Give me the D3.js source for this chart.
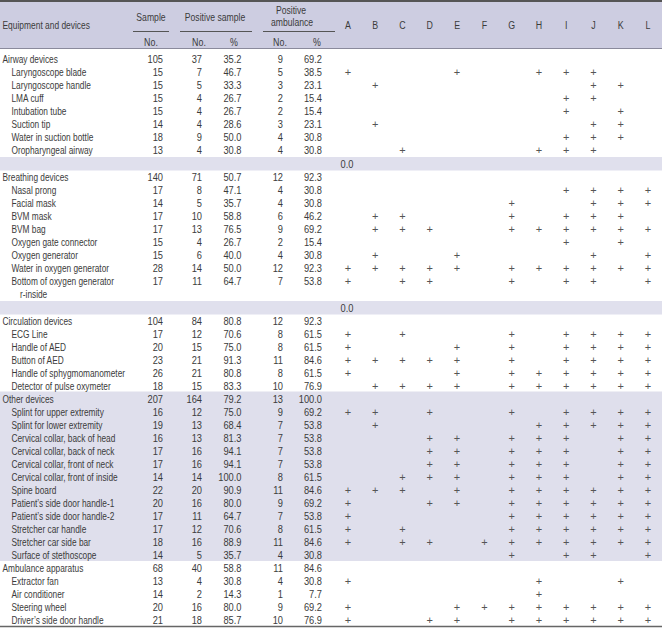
<!DOCTYPE html>
<html><head><meta charset="utf-8">
<script src="https://cdn.jsdelivr.net/npm/d3@7"></script>
<style>
html,body{margin:0;padding:0;background:#fff;}
svg text{font-family:"Liberation Sans",Arial,sans-serif;}
</style></head>
<body><svg id="chart" width="662" height="629"></svg>
<script>
const columns = ["A","B","C","D","E","F","G","H","I","J","K","L"];
const labels = ["Airway devices","Laryngoscope blade","Laryngoscope handle","LMA cuff","Intubation tube","Suction tip","Water in suction bottle","Oropharyngeal airway","",
"Breathing devices","Nasal prong","Facial mask","BVM mask","BVM bag","Oxygen gate connector","Oxygen generator","Water in oxygen generator","Bottom of oxygen generator","r-inside","",
"Circulation devices","ECG Line","Handle of AED","Button of AED","Handle of sphygmomanometer","Detector of pulse oxymeter",
"Other devices","Splint for upper extremity","Splint for lower extremity","Cervical collar, back of head","Cervical collar, back of neck","Cervical collar, front of neck","Cervical collar, front of inside","Spine board","Patient\u2019s side door handle-1","Patient\u2019s side door handle-2","Stretcher car handle","Stretcher car side bar","Surface of stethoscope",
"Ambulance apparatus","Extractor fan","Air conditioner","Steering wheel","Driver\u2019s side door handle"];
const kinds = ["g","i","i","i","i","i","i","i","b",
"g","i","i","i","i","i","i","i","i","c","b",
"g","i","i","i","i","i",
"g","i","i","i","i","i","i","i","i","i","i","i","i",
"g","i","i","i","i"];
const sampleNo = [105,15,15,15,15,14,18,13,null,
140,17,14,17,17,15,15,28,17,null,null,
104,17,20,23,26,18,
207,16,19,16,17,17,14,22,20,17,17,18,14,
68,13,14,20,21];
const posNo = [37,7,5,4,4,4,9,4,null,
71,8,5,10,13,4,6,14,11,null,null,
84,12,15,21,21,15,
164,12,13,13,16,16,14,20,16,11,12,16,5,
40,4,2,16,18];
const posPct = [35.2,46.7,33.3,26.7,26.7,28.6,50.0,30.8,null,
50.7,47.1,35.7,58.8,76.5,26.7,40.0,50.0,64.7,null,null,
80.8,70.6,75.0,91.3,80.8,83.3,
79.2,75.0,68.4,81.3,94.1,94.1,100.0,90.9,80.0,64.7,70.6,88.9,35.7,
58.8,30.8,14.3,80.0,85.7];
const ambNo = [9,5,3,2,2,3,4,4,null,
12,4,4,6,9,2,4,12,7,null,null,
12,8,8,11,8,10,
13,9,7,7,7,7,8,11,9,7,8,11,4,
11,4,1,9,10];
const ambPct = [69.2,38.5,23.1,15.4,15.4,23.1,30.8,30.8,null,
92.3,30.8,30.8,46.2,69.2,15.4,30.8,92.3,53.8,null,null,
92.3,61.5,61.5,84.6,61.5,76.9,
100.0,69.2,53.8,53.8,53.8,53.8,61.5,84.6,69.2,53.8,61.5,84.6,30.8,
84.6,30.8,7.7,69.2,76.9];
const marks = ["","AEHIJ","BJK","IJ","IK","BJK","IJK","CHIJ","",
"","IJKL","GJKL","BCGIJK","BCDGHIJKL","IK","BEJL","ABCDEGHIJKL","ACDGIJL","","",
"","ACGIJKL","AEGIJKL","ABCDEGIJKL","AEGHIJKL","BCDEGHIJKL",
"","ABDGIJKL","BHIJKL","DEGHIKL","DEGHIKL","DEGHIKL","CDEGHIKL","ABCEGHIJKL","ADEGHIJKL","AGHIJKL","ACGHIJKL","ACDFGHIJKL","GIJL",
"","AHK","H","AEFGHIJKL","ADEGHIJKL"];
const bandValue = 0.0;
const shadedGroups = ["Other devices"];
const headerGroups = [["Sample"],["Positive sample"],["Positive","ambulance"]];
const subHeaders = ["No.","No.","%","No.","%"];
const firstHeader = "Equipment and devices";

const svg = d3.select("#chart");
const W = 662;
const textCol = "#3b3b3b";
const fmt1 = d3.format(".1f");
const FS = 10.8;

function txt(g, xPos, yPos, s, anchor, sx, extra){
  const t = g.append("text")
    .attr("transform", `translate(${xPos},${yPos}) scale(${sx},1)`)
    .attr("text-anchor", anchor || "start")
    .text(s);
  if (extra) extra(t);
  return t;
}

const x = d3.scalePoint().domain(columns).range([348, 648]);

// row layout
const rowTop = [];
let yy = 52;
kinds.forEach((k)=>{ rowTop.push(yy); yy += (k==="b") ? 14 : 13; });
const rowH = i => kinds[i]==="b" ? 14 : 13;

// header background
svg.append("rect").attr("x",0).attr("y",0).attr("width",W).attr("height",48.5).attr("fill","#cdcde1");
// shaded group blocks
let curGroup = null;
const groupOf = kinds.map((k,i)=>{ if(k==="g") curGroup = labels[i]; return curGroup; });
shadedGroups.forEach(g=>{
  const idx = groupOf.map((v,i)=>v===g?i:-1).filter(i=>i>=0);
  const y0 = rowTop[idx[0]] - 0.5, y1 = rowTop[idx[idx.length-1]] + rowH(idx[idx.length-1]);
  svg.append("rect").attr("x",0).attr("y",y0).attr("width",W).attr("height",y1-y0).attr("fill","#dfdfec");
});
// band rows
const bandG = svg.append("g").attr("fill",textCol).attr("font-size",FS);
kinds.forEach((k,i)=>{
  if(k==="b"){
    svg.insert("rect","g").attr("x",0).attr("y",rowTop[i]+1).attr("width",W).attr("height",13.5).attr("fill","#e0e0ed");
    txt(bandG, x("A")-1, rowTop[i]+11.5, fmt1(bandValue), "middle", 0.86);
  }
});

// header lines
svg.append("line").attr("x1",0).attr("x2",W).attr("y1",1).attr("y2",1).attr("stroke","#555").attr("stroke-width",2);
svg.append("line").attr("x1",0).attr("x2",W).attr("y1",48.5).attr("y2",48.5).attr("stroke","#8a8a9c").attr("stroke-width",1);
svg.append("line").attr("x1",0).attr("x2",W).attr("y1",626.5).attr("y2",626.5).attr("stroke","#666").attr("stroke-width",1.6);

const hdr = svg.append("g").attr("fill","#3b3b3b").attr("font-size",FS);
txt(hdr, 2.5, 28.5, firstHeader, "start", 0.78);
const groupCenters = [151, 215, 291];
const underl = [[133,169],[180,252],[263,335]];
headerGroups.forEach((lines,gi)=>{
  if(lines.length===1){
    txt(hdr, groupCenters[gi], 20.5, lines[0], "middle", 0.8);
  } else {
    txt(hdr, groupCenters[gi], 14, lines[0], "middle", 0.8);
    txt(hdr, groupCenters[gi]+1, 26, lines[1], "middle", 0.8);
  }
  svg.append("line").attr("x1",underl[gi][0]).attr("x2",underl[gi][1]).attr("y1",31.5).attr("y2",31.5)
    .attr("stroke","#555").attr("stroke-width",1);
});
const subX = [151,199,234,280,317];
subHeaders.forEach((s,i)=>{ txt(hdr, subX[i], 45.5, s, "middle", 0.82); });
columns.forEach(c=>{ txt(hdr, x(c), 29, c, "middle", 0.82); });

// body
const body = svg.append("g").attr("fill",textCol).attr("font-size",FS);
const labelX = {g:2.5, i:11.5, c:20};
kinds.forEach((k,i)=>{
  if(k==="b") return;
  const base = rowTop[i] + 10.5;
  txt(body, labelX[k], base, labels[i], "start", 0.77);
  const vals = [[sampleNo[i],163,false],[posNo[i],202,false],[posPct[i],241.5,true],[ambNo[i],283,false],[ambPct[i],322,true]];
  vals.forEach(([v,xr,pct])=>{
    if(v===null || v===undefined) return;
    txt(body, xr, base, pct?fmt1(v):String(v), "end", 0.86);
  });
  marks[i].split("").forEach(c=>{
    body.append("text").attr("x",x(c)).attr("y",base).attr("text-anchor","middle")
      .attr("fill","#555").attr("font-size",11).text("+");
  });
});
</script></body></html>
